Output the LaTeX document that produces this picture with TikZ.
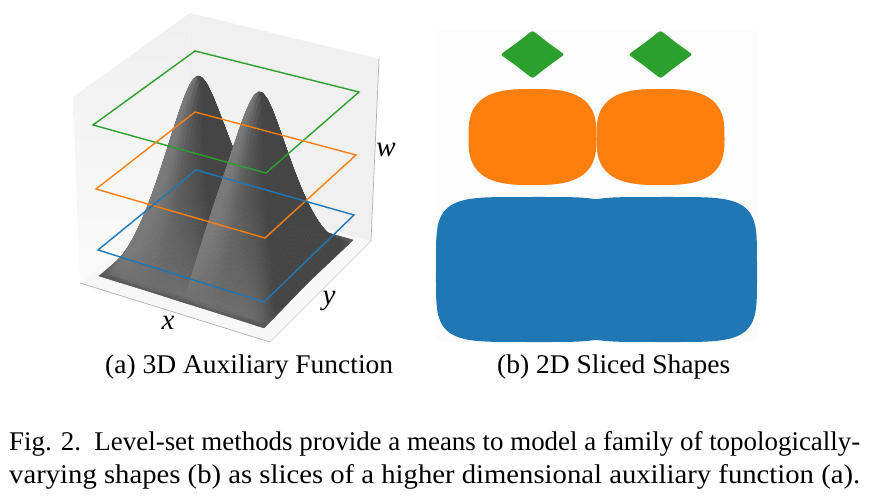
\documentclass[tikz,border=0pt]{standalone}
\usepackage{graphicx}
\usepackage{fontspec}
\setmainfont{Liberation Serif}
\definecolor{mplblue}{HTML}{1F77B4}
\definecolor{mplorange}{HTML}{FF7F0E}
\definecolor{mplgreen}{HTML}{2CA02C}
\tikzset{
  slice/.style={line width=1.4pt,line join=miter},
  axisedge/.style={line width=.7pt},
  axislabel/.style={font=\fontsize{29}{29}\selectfont\itshape,inner sep=0pt},
  captext/.style={font=\fontsize{27}{27}\selectfont,inner sep=0pt,anchor=base west},
}
\newcommand\fitw[2]{\resizebox{#1pt}{\height}{#2}}
\def\NN{64}
\makeatletter
\newcommand\gset[2]{\expandafter\xdef\csname #1\endcsname{#2}}
\newcommand\gget[1]{\csname #1\endcsname}
\makeatother
\begin{document}
\begin{tikzpicture}[x=1pt,y=-1pt]
\useasboundingbox (0,0) rectangle (871,503);
\fill[white] (0,0) rectangle (871,503);
% panes
\shade[top color=black!6,bottom color=black!2] (73,97) -- (190,13) -- (186,192) -- (80,283) -- cycle;
\fill[black!6] (190,13) -- (379,59) -- (371,241) -- (186,192) -- cycle;
\fill[black!3] (80,283) -- (270,342) -- (371,241) -- (186,192) -- cycle;
\draw[axisedge,black!30] (80,283) -- (270,342);
\draw[axisedge,black!20] (270,342) -- (371,241);
\draw[axisedge,black!30] (371,241) -- (379,59);
% surface: grid points
\foreach \j in {0,...,\NN}{
 \foreach \i in {0,...,\NN}{
  \pgfmathsetmacro\xx{\i/\NN}
  \pgfmathsetmacro\yy{\j/\NN}
  \pgfmathsetmacro\dxx{min(abs(\xx-0.32),abs(\xx-0.68))}
  \pgfmathsetmacro\dyy{0.68*abs(\yy-0.5)}
  \pgfmathsetmacro\fa{(1.39-4.3*sqrt(\dxx*\dxx+0.0026))/1.17}
  \pgfmathsetmacro\fb{(1.39-4.3*sqrt(\dyy*\dyy+0.0026))/1.17}
  \pgfmathsetmacro\fa{(\fa+sqrt(\fa*\fa+0.0005))/2}
  \pgfmathsetmacro\fb{(\fb+sqrt(\fb*\fb+0.0005))/2}
  \pgfmathsetmacro\ww{1.17*\fa*\fb}
  \pgfmathsetmacro\cA{(1-\xx)*(1-\yy)}
  \pgfmathsetmacro\cB{\xx*(1-\yy)}
  \pgfmathsetmacro\cC{\xx*\yy}
  \pgfmathsetmacro\cD{(1-\xx)*\yy}
  \pgfmathsetmacro\px{\cA*(99-6*\ww)+\cB*(264+2*\ww)+\cC*(353+6*\ww)+\cD*(197-2*\ww)}
  \pgfmathsetmacro\py{\cA*(276-151*\ww)+\cB*(328-155*\ww)+\cC*(240-148*\ww)+\cD*(196-145*\ww)}
  \gset{W\i:\j}{\ww}\gset{X\i:\j}{\px}\gset{Y\i:\j}{\py}
 }
}
% surface: painter's order, far corner first
\foreach \j in {63,...,0}{
 \foreach \i in {0,...,63}{
  \pgfmathtruncatemacro\ii{\i+1}
  \pgfmathtruncatemacro\jj{\j+1}
  \pgfmathsetmacro\sa{0.5*\NN*0.3*(\gget{W\ii:\j}+\gget{W\ii:\jj}-\gget{W\i:\j}-\gget{W\i:\jj})}
  \pgfmathsetmacro\sb{0.5*\NN*0.7*(\gget{W\i:\jj}+\gget{W\ii:\jj}-\gget{W\i:\j}-\gget{W\ii:\j})}
  \pgfmathsetmacro\ss{(\sa+\sb+1)/sqrt(\sa*\sa+\sb*\sb+1)/1.732}
  \pgfmathsetmacro\gg{max(0.27,min(0.48,0.34+0.4*(\ss-0.577)))}
  \definecolor{quadc}{gray}{\gg}
  \filldraw[fill=quadc,draw=quadc,line width=.4pt,line join=round]
   (\gget{X\i:\j},\gget{Y\i:\j}) -- (\gget{X\ii:\j},\gget{Y\ii:\j}) -- (\gget{X\ii:\jj},\gget{Y\ii:\jj}) -- (\gget{X\i:\jj},\gget{Y\i:\jj}) -- cycle;
 }
}
% slices
\draw[slice,mplgreen] (93,125) -- (266,173) -- (359,92) -- (195,51) -- cycle;
\draw[slice,mplorange] (96,189) -- (265,238) -- (356,155) -- (195,112) -- cycle;
\draw[slice,mplblue] (98,250) -- (264,302) -- (354,215) -- (196,170) -- cycle;
% axis labels
\node[axislabel] (lx) at (168,323) {x};
\node[axislabel] (ly) at (329,301) {y};
\node[axislabel] (lw) at (386,150) {w};
% right panel
\fill[black!1] (436,30) rectangle (757,342);
\fill[mplblue] plot[domain=1:361,samples=120] ({532+96*(cos(\x)<0?-1:1)*max(abs(cos(\x)),0.001)^(2/4.8)},{269.5+72.5*(sin(\x)<0?-1:1)*max(abs(sin(\x)),0.001)^(2/4.8)}) -- cycle;
\fill[mplblue] plot[domain=1:361,samples=120] ({660.5+96.5*(cos(\x)<0?-1:1)*max(abs(cos(\x)),0.001)^(2/4.8)},{269.5+72.5*(sin(\x)<0?-1:1)*max(abs(sin(\x)),0.001)^(2/4.8)}) -- cycle;
\fill[mplorange] plot[domain=1:361,samples=120] ({532.5+64*(cos(\x)<0?-1:1)*max(abs(cos(\x)),0.001)^(2/2.9)},{137+48*(sin(\x)<0?-1:1)*max(abs(sin(\x)),0.001)^(2/2.9)}) -- cycle;
\fill[mplorange] plot[domain=1:361,samples=120] ({660.5+64*(cos(\x)<0?-1:1)*max(abs(cos(\x)),0.001)^(2/2.9)},{137+48*(sin(\x)<0?-1:1)*max(abs(sin(\x)),0.001)^(2/2.9)}) -- cycle;
\foreach \cx in {532.5,660.5}{
 \fill[mplgreen,rounded corners=2.5pt,shift={(\cx,54.5)}]
  (0,-24) -- (16,-11.5) -- (32,0) -- (16,11.5) -- (0,24) -- (-16,11.5) -- (-32,0) -- (-16,-11.5) -- cycle;
}
% captions
\node[captext] (capa) at (105,373) {\fitw{288}{(a) 3D Auxiliary Function}};
\node[captext] (capb) at (497,373) {\fitw{233}{(b) 2D Sliced Shapes}};
\node[captext] (cap1) at (9,450) {\fitw{851}{Fig. 2.\enspace Level-set methods provide a means to model a family of topologically-}};
\node[captext] (cap2) at (9,483) {\fitw{851}{varying shapes (b) as slices of a higher dimensional auxiliary function (a).}};
\end{tikzpicture}
\end{document}
